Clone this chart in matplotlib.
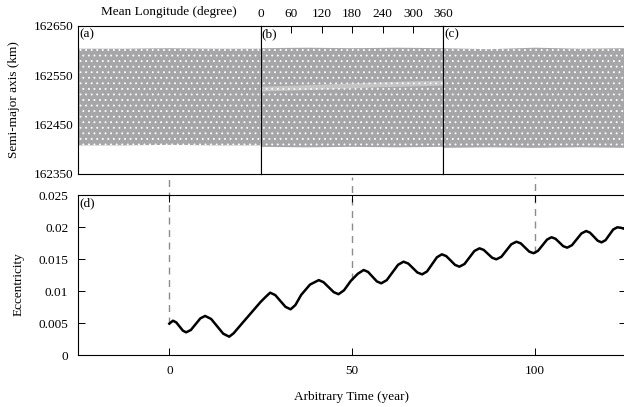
import numpy as np
import matplotlib
matplotlib.use('Agg')
import matplotlib.pyplot as plt

plt.rcParams['font.family'] = ['Liberation Serif', 'DejaVu Serif']
plt.rcParams['font.size'] = 9.5
plt.rcParams['hatch.color'] = 'white'
plt.rcParams['hatch.linewidth'] = 0.6

# eccentricity
t_ecc = [0.0, 1.0,
         1.9, 2.8, 3.7, 4.6,
         5.9, 7.2, 8.5, 9.8,
         11.45, 13.1, 14.75, 16.4,
         17.6, 20.0, 22.5, 25.0, 26.4, 27.6,
         29.0, 30.4, 31.8, 33.2,
         34.5, 36.1, 38.5, 40.9,
         42.2, 43.6, 45.0, 46.3,
         47.8, 49.7, 51.6, 53.2,
         54.4, 55.6, 56.8, 58.0,
         59.5, 61.05, 62.6, 64.1,
         65.4, 66.65, 67.9, 69.2,
         70.55, 71.9, 73.25, 74.6,
         75.8, 77.0, 78.2, 79.4,
         80.8, 82.15, 83.5, 84.9,
         86.05, 87.2, 88.35, 89.5,
         90.9, 92.25, 93.6, 95.0,
         96.2, 97.35, 98.5, 99.7,
         100.9, 102.15, 103.4, 104.6,
         105.7, 106.75, 107.8, 108.9,
         110.2, 111.5, 112.8, 114.1,
         115.15, 116.2, 117.25, 118.3,
         119.4, 120.45, 121.5, 122.6,
         123.6, 124.6]
ecc = [0.0049, 0.00536,
       0.00509, 0.00445, 0.00381, 0.00354,
       0.00391, 0.00482, 0.00573, 0.0061,
       0.00563, 0.00448, 0.00333, 0.00286,
       0.0034, 0.0050, 0.00665, 0.0083, 0.0091, 0.00974,
       0.00936, 0.00844, 0.00752, 0.00714,
       0.0078, 0.0094, 0.0110, 0.0117,
       0.01138, 0.0106, 0.00982, 0.0095,
       0.0101, 0.0116, 0.0127, 0.01328,
       0.01298, 0.01224, 0.0115, 0.0112,
       0.01169, 0.01289, 0.01409, 0.01458,
       0.01429, 0.01359, 0.01289, 0.0126,
       0.01306, 0.01417, 0.01527, 0.01573,
       0.01545, 0.01477, 0.01408, 0.0138,
       0.01422, 0.01524, 0.01625, 0.01667,
       0.01642, 0.01581, 0.0152, 0.01495,
       0.01535, 0.01633, 0.0173, 0.0177,
       0.01744, 0.0168, 0.01616, 0.0159,
       0.01627, 0.01715, 0.01804, 0.0184,
       0.01816, 0.01759, 0.01701, 0.01677,
       0.01715, 0.01807, 0.01899, 0.01937,
       0.01911, 0.01849, 0.01786, 0.0176,
       0.01794, 0.01878, 0.01961, 0.01995,
       0.01988, 0.0197]

# snapshot times (centre of each top panel) and panel names
snap_times = [0, 50, 100]
panel_names = ['(a)', '(b)', '(c)']

# outer edges of the semi-major axis cloud in each snapshot
lon_edge = [0, 90, 180, 270, 360]
a_upper = [[162604, 162604, 162605, 162604, 162604],
           [162605, 162606, 162605, 162606, 162605],
           [162605, 162603, 162606, 162604, 162605]]
a_lower = [[162408, 162408, 162409, 162408, 162408],
           [162405, 162404, 162405, 162404, 162405],
           [162403, 162404, 162403, 162404, 162403]]
# thin sparse streak inside snapshot (b)
streak_lon = [0, 120, 240, 360]
streak_lo = [162517, 162521, 162526, 162529]
streak_hi = [162527, 162531, 162536, 162539]

lon_ticks = [0, 60, 120, 180, 240, 300, 360]
a_ticks = [162350, 162450, 162550, 162650]
e_ticks = [0, 0.005, 0.01, 0.015, 0.02, 0.025]
e_ticklabels = ['0', '0.005', '0.01', '0.015', '0.02', '0.025']
t_ticks = [0, 50, 100]

fig = plt.figure(figsize=(6.24, 4.07), dpi=100)
W, H = 624.0, 407.0
x0, pw = 78 / W, 182.7 / W
top_b, top_h = (H - 174) / H, 148 / H
band_col = '#a6a6a8'

for k in range(3):
    ax = fig.add_axes([x0 + k * pw, top_b, pw, top_h])
    ax.fill_between(lon_edge, a_lower[k], a_upper[k], facecolor=band_col,
                    edgecolor='white', hatch='...', linewidth=0, zorder=1)
    if k == 1:
        ax.fill_between(streak_lon, streak_lo, streak_hi, facecolor='#c4c4c4',
                        edgecolor='white', hatch='...', linewidth=0, zorder=1.1)
    ax.set_xlim(0, 360)
    ax.set_ylim(162350, 162650)
    ax.set_axisbelow(True)
    ax.tick_params(direction='in', length=3, width=0.7)
    ax.set_yticks(a_ticks)
    if k == 0:
        ax.set_ylabel('Semi-major axis (km)')
        ax.yaxis.set_label_coords(-0.315, 0.5)
        ax.text(0.5, 1.095, 'Mean Longitude (degree)', transform=ax.transAxes,
                ha='center', va='center')
    else:
        ax.tick_params(axis='y', left=False, labelleft=False)
    if k == 1:
        ax.xaxis.tick_top()
        ax.set_xticks(lon_ticks)
        ax.tick_params(axis='x', top=True, bottom=False, labeltop=True,
                       labelbottom=False, length=5, pad=4)
    else:
        ax.set_xticks([])
    for s in ax.spines.values():
        s.set_linewidth(0.8)
    ax.text(0.006, 0.985, panel_names[k], transform=ax.transAxes,
            ha='left', va='top')

bot_b, bot_h = (H - 355) / H, 160 / H
axd = fig.add_axes([x0, bot_b, 548 / W, bot_h])
axd.plot(t_ecc, ecc, color='black', lw=1.8, solid_joinstyle='round')
axd.set_xlim(-25, 125)
axd.set_ylim(0, 0.025)
axd.set_xticks(t_ticks)
axd.set_yticks(e_ticks)
axd.set_yticklabels(e_ticklabels)
axd.tick_params(direction='in', length=5, width=0.7, right=True, top=True, pad=7)
axd.set_xlabel('Arbitrary Time (year)', labelpad=10)
axd.set_ylabel('Eccentricity')
axd.yaxis.set_label_coords(-0.098, 0.44)
for s in axd.spines.values():
    s.set_linewidth(0.8)
axd.text(0.002, 0.985, '(d)', transform=axd.transAxes, ha='left', va='top')

# dashed markers joining each snapshot to the eccentricity curve
y_top = 0.025 + 18 / 6400.0
for ts in snap_times:
    ev = np.interp(ts, t_ecc, ecc)
    axd.plot([ts, ts], [ev, y_top], color='#8c8c8c', lw=1.0,
             dashes=(5, 4), clip_on=False, zorder=1)

fig.savefig('out.png', dpi=100)
